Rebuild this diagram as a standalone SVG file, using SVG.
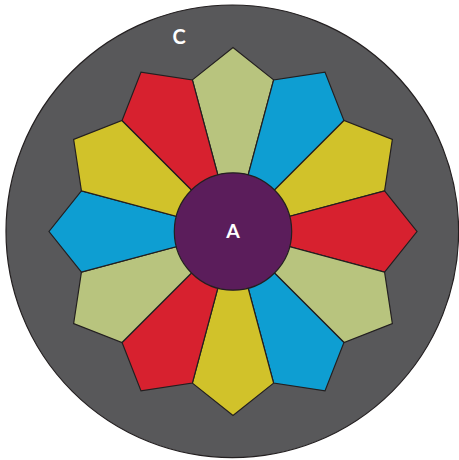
<svg xmlns="http://www.w3.org/2000/svg" width="459" height="460" viewBox="0 0 459 460">
<style>
.ed{stroke:#231F20;stroke-width:1.2;stroke-linejoin:miter}
.g{fill:#B8C47E}.b{fill:#0E9ED2}.y{fill:#D1C22A}.r{fill:#D7212F}
.lbl{font-family:"Lato","Open Sans","Liberation Sans",sans-serif;font-weight:700;fill:#FFFFFF;text-anchor:middle}
</style>
<defs>
<polygon id="petal" points="0,0 40.6,-151.6 0,-184 -40.6,-151.6"/>
</defs>
<g id="C">
<circle cx="232.3" cy="231.3" r="226.3" fill="#58585A" stroke="#231F20" stroke-width="1.2"/>
<text class="lbl" x="179" y="44" font-size="20">C</text>
</g>
<g id="petals" transform="translate(233,231.5)">
<g id="p0"><use href="#petal" class="ed g" transform="rotate(0)"/></g>
<g id="p1"><use href="#petal" class="ed b" transform="rotate(30)"/></g>
<g id="p2"><use href="#petal" class="ed y" transform="rotate(60)"/></g>
<g id="p3"><use href="#petal" class="ed r" transform="rotate(90)"/></g>
<g id="p4"><use href="#petal" class="ed g" transform="rotate(120)"/></g>
<g id="p5"><use href="#petal" class="ed b" transform="rotate(150)"/></g>
<g id="p6"><use href="#petal" class="ed y" transform="rotate(180)"/></g>
<g id="p7"><use href="#petal" class="ed r" transform="rotate(210)"/></g>
<g id="p8"><use href="#petal" class="ed g" transform="rotate(240)"/></g>
<g id="p9"><use href="#petal" class="ed b" transform="rotate(270)"/></g>
<g id="p10"><use href="#petal" class="ed y" transform="rotate(300)"/></g>
<g id="p11"><use href="#petal" class="ed r" transform="rotate(330)"/></g>
</g>
<g id="connectors"></g>
<g id="A">
<circle cx="233" cy="231.5" r="58.7" fill="#5B1D5B" stroke="#231F20" stroke-width="1.2"/>
<text class="lbl" x="233" y="237.5" font-size="19.5">A</text>
</g>
</svg>
